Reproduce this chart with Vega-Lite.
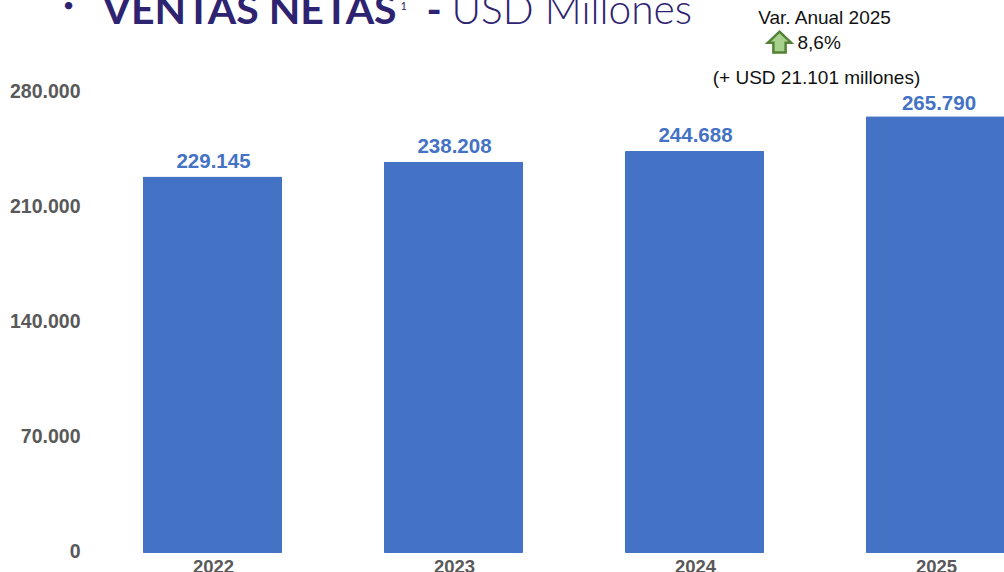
{
"$schema":"https://vega.github.io/schema/vega-lite/v6.json",
"autosize":{"type":"none"},
"padding":{"left":92,"top":93,"right":0,"bottom":19},
"width":912,
"height":460,
"background":"white",
"view":{"stroke":null},
"config":{"font":"Liberation Sans"},
"datasets":{
"bars":[{"year":"2022","value":229145,"label":"229.145"},{"year":"2023","value":238208,"label":"238.208"},{"year":"2024","value":244688,"label":"244.688"},{"year":"2025","value":265790,"label":"265.790"}],
"arrow":[{"year":"2025","value":311000}]
},
"encoding":{
"x":{"field":"year","type":"nominal","scale":{"domain":["2022","2023","2024","2025"],"range":[0,964],"paddingInner":0.423,"paddingOuter":0.2115},"axis":{"title":null,"domain":false,"ticks":false,"labelAngle":0,"labelFont":"Liberation Sans","labelFontWeight":"bold","labelFontSize":18.5,"labelColor":"#595959","labelPadding":4,"labelOffset":1}},
"y":{"field":"value","type":"quantitative","scale":{"domain":[0,280000],"nice":false},"axis":{"title":null,"domain":false,"ticks":false,"grid":false,"values":[0,70000,140000,210000,280000],"labelExpr":"replace(format(datum.value,','),',','.')","labelFont":"Liberation Sans","labelFontWeight":"bold","labelFontSize":19.5,"labelColor":"#595959","labelPadding":12,"labelOffset":-1.5}}
},
"layer":[
{"data":{"name":"bars"},"mark":{"type":"bar","color":"#4472C4","cornerRadius":1}},
{"data":{"name":"bars"},"transform":[{"filter":"datum.year != '2025'"}],"mark":{"type":"text","color":"#4472C4","fontWeight":"bold","fontSize":20.5,"baseline":"alphabetic","dy":-9,"dx":1},"encoding":{"text":{"field":"label"}}},
{"data":{"name":"bars"},"transform":[{"filter":"datum.year == '2025'"}],"mark":{"type":"text","color":"#4472C4","fontWeight":"bold","fontSize":20.5,"baseline":"alphabetic","dy":-6,"dx":3.5},"encoding":{"text":{"field":"label"}}},
{"data":{"values":[{"year":"2022","value":329500,"label":"•"}]},"mark":{"type":"text","align":"center","baseline":"alphabetic","font":"Lato","fontSize":20,"color":"#2E2371","dx":-144},"encoding":{"text":{"field":"label"}}},
{"data":{"values":[{"year":"2022","value":322000,"label":"VENTAS NETAS"}]},"mark":{"type":"text","align":"left","baseline":"alphabetic","font":"Lato","fontWeight":"bold","fontSize":41,"color":"#2E2371","dx":-110},"encoding":{"text":{"field":"label"}}},
{"data":{"values":[{"year":"2023","value":322000,"label":"-"}]},"mark":{"type":"text","align":"left","baseline":"alphabetic","font":"Lato","fontWeight":"bold","fontSize":41,"color":"#2E2371","dx":-27},"encoding":{"text":{"field":"label"}}},
{"data":{"values":[{"year":"2022","value":330500,"label":"1"}]},"mark":{"type":"text","align":"left","baseline":"alphabetic","font":"Lato","fontSize":11,"color":"#2E2371","dx":188},"encoding":{"text":{"field":"label"}}},
{"data":{"values":[{"year":"2023","value":322000,"label":"USD Millones"}]},"mark":{"type":"text","align":"left","baseline":"alphabetic","font":"Lato","fontWeight":300,"fontSize":40.7,"color":"#2E2371","dx":-2},"encoding":{"text":{"field":"label"}}},
{"data":{"values":[{"year":"2025","value":325700,"label":"Var. Anual 2025"}]},"mark":{"type":"text","align":"center","baseline":"middle","fontSize":19,"color":"#111111","dx":-111},"encoding":{"text":{"field":"label"}}},
{"data":{"values":[{"year":"2025","value":310400,"label":"8,6%"}]},"mark":{"type":"text","align":"left","baseline":"middle","fontSize":19,"color":"#111111","dx":-138},"encoding":{"text":{"field":"label"}}},
{"data":{"values":[{"year":"2025","value":288900,"label":"(+ USD 21.101 millones)"}]},"mark":{"type":"text","align":"center","baseline":"middle","fontSize":19,"color":"#111111","dx":-119},"encoding":{"text":{"field":"label"}}},
{"data":{"name":"arrow"},"mark":{"type":"point","shape":"M0,-0.85 L0.95,0.05 L0.5,0.05 L0.5,0.85 L-0.5,0.85 L-0.5,0.05 L-0.95,0.05 Z","filled":true,"fill":"#A9D18E","stroke":"#548235","strokeWidth":2.5,"opacity":1,"size":600,"xOffset":-156}}
]
}
